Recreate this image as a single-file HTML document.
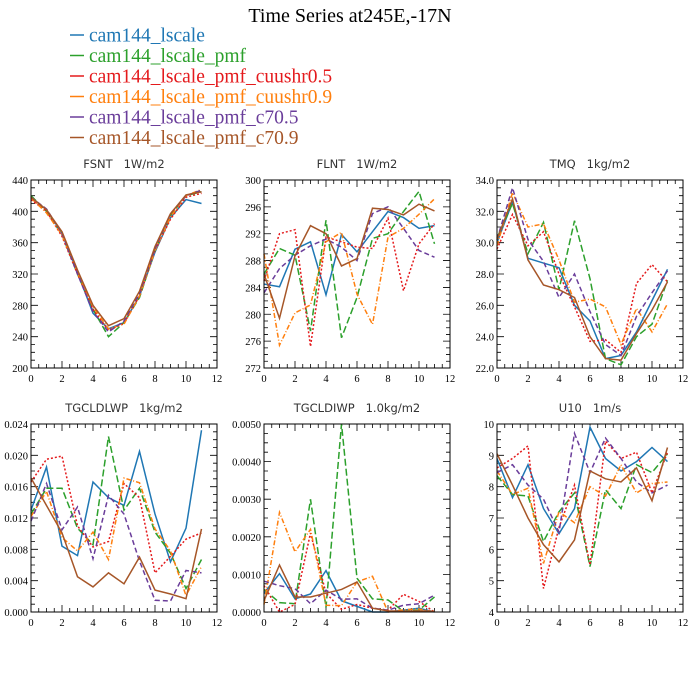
<!DOCTYPE html>
<html><head><meta charset="utf-8"><style>
body{margin:0;background:#fff;}
svg{display:block;}
</style></head><body>
<svg id="c" width="700" height="700" xmlns="http://www.w3.org/2000/svg">
<rect width="700" height="700" fill="#fff"/>
<text x="350" y="22" text-anchor="middle" font-family="Liberation Serif, serif" font-size="20" fill="#000">Time Series at245E,-17N</text>
</svg>
<script>
const seriesNames=["cam144_lscale","cam144_lscale_pmf","cam144_lscale_pmf_cuushr0.5","cam144_lscale_pmf_cuushr0.9","cam144_lscale_pmf_c70.5","cam144_lscale_pmf_c70.9"];
const colors=["#1f77b4","#2ca02c","#e41a1c","#ff7f0e","#6a3d9a","#a65628"];
const dashes=["none","7,3","2,2","5,2,1,2","5,3","none"];
const months=[0,1,2,3,4,5,6,7,8,9,10,11];
const xTicks=[0,2,4,6,8,10,12];

const fsnt=[[418,402,372,322,270,250,258,292,348,392,415,410],[420,400,370,320,275,240,258,290,350,395,420,425],[415,400,368,320,275,248,257,292,350,390,418,423],[417,398,370,322,278,250,256,292,350,393,420,428],[418,403,372,320,272,246,260,295,352,397,420,427],[418,402,374,325,280,254,263,298,355,397,421,425]];
const flnt=[[284.5,284.1,289.7,290.8,282.9,291.9,289.3,292.3,295.3,294.4,292.8,293.2],[286,289.8,288.8,277.5,294,276.5,282.5,291.3,292,295.3,298.3,290.5],[285,292,292.6,275.2,291.5,290.8,290,289.8,294.3,283.5,290.5,293.5],[289,275.4,280.2,281.4,290.8,292.2,283,278.5,291.5,292.8,294.9,297.2],[283.2,286.8,288.8,290.2,291.2,290,288,295,296,292.8,289.5,288.5],[286,279.4,288.7,293.2,292,287.2,288.3,295.8,295.6,294.8,296.4,295.4]];
const tmq=[[30,32.6,29,28.7,28.4,26,25,22.6,22.8,24.3,26.3,28.3],[30.3,32.5,29.3,31.3,27,31.4,27.7,22.6,22.2,24,24.8,27.6],[29.6,31.8,29.8,30.7,28,25.9,23.7,23.8,23,27.4,28.6,27.5],[29.8,33.2,31,31.2,28.9,26.2,26.4,25.9,23.5,25.8,24.3,26.1],[30.2,33.5,30.2,28.8,26.5,28,25.6,23.5,22.8,25.3,26.8,28.2],[30.2,32.8,28.9,27.3,27,26.5,24,22.6,22.5,24.2,25.7,27.5]];
const lwp=[[.013,.0185,.0084,.0072,.0166,.0146,.0136,.0205,.0125,.0064,.0107,.0232],[.0125,.0158,.0158,.0107,.0086,.0224,.013,.0158,.0102,.0075,.003,.0067],[.0166,.0195,.0199,.011,.0083,.009,.0164,.0146,.005,.0071,.0093,.0101],[.0122,.0154,.0095,.0078,.0102,.0067,.0171,.0165,.0106,.0078,.0021,.0058],[.0116,.0164,.0105,.0134,.0068,.0149,.0125,.0065,.0015,.0014,.0053,.005],[.0171,.0136,.0101,.0045,.0032,.005,.0036,.007,.0028,.0023,.0017,.0106]];
const iwp=[[.0005,.00102,.00035,.00048,.0011,.0003,.00015,0,0,.00005,.0001,0],[.0006,.00025,.00022,.003,.00012,.005,.0009,.00035,.00032,.00002,.00005,.0004],[.0007,0,.0002,.0021,.0005,.00007,.0002,.0001,.00005,.00047,.00028,0],[.0002,.00265,.0016,.0022,.00018,.00017,.0008,.00095,0,.00006,.00008,0],[.00082,.0007,.00062,.00022,.00058,.00034,.00035,.0001,.00005,.00018,.00022,.00045],[.0003,.00125,.0004,.0004,.0005,.0006,.0008,.0001,.00003,.00002,.00003,.00002]];
const u10=[[8.9,7.65,8.7,7.3,6.5,7.3,9.9,8.9,8.5,8.8,9.25,8.8],[8.35,7.75,7.7,6.25,7.2,7.8,5.45,7.9,7.3,8.7,8.45,9.05],[8.6,8.9,9.3,4.75,6.7,8.05,5.5,9.45,8.9,9.1,7.8,9.1],[8.5,7.75,7.95,5.55,7.2,6.85,8,7.7,8.7,7.8,8.1,8.15],[8.45,8.7,8.05,7.6,6.55,9.7,8.45,9.55,8.9,8.15,7.8,8.05],[9.05,8.05,7,6.15,5.6,6.3,8.5,8.25,8.15,8.6,7.55,9.25]];

const fsntTicks=["200","240","280","320","360","400","440"];
const flntTicks=["272","276","280","284","288","292","296","300"];
const tmqTicks=["22.0","24.0","26.0","28.0","30.0","32.0","34.0"];
const lwpTicks=["0.000","0.004","0.008","0.012","0.016","0.020","0.024"];
const iwpTicks=["0.0000","0.0010","0.0020","0.0030","0.0040","0.0050"];
const u10Ticks=["4","5","6","7","8","9","10"];

const NS="http://www.w3.org/2000/svg";
const svg=document.getElementById("c");
function mk(tag,attrs,parent){const e=document.createElementNS(NS,tag);for(const k in attrs)e.setAttribute(k,attrs[k]);(parent||svg).appendChild(e);return e;}

// legend
seriesNames.forEach((n,i)=>{
  const y=35+i*20.5;
  const g=mk("g",{});
  
  
  mk("line",{x1:70,x2:84,y1:y,y2:y,stroke:colors[i],"stroke-width":1.5},g);
  const t=mk("text",{x:89,y:y+6.5,"font-family":"Liberation Serif, serif","font-size":19.5,fill:colors[i]},g);
  t.textContent=n;
});

const panels=[
 {title:"FSNT   1W/m2",data:fsnt,ticks:fsntTicks,x:31,y:180,name:"fsnt"},
 {title:"FLNT   1W/m2",data:flnt,ticks:flntTicks,x:264,y:180,name:"flnt"},
 {title:"TMQ   1kg/m2",data:tmq,ticks:tmqTicks,x:497,y:180,name:"tmq"},
 {title:"TGCLDLWP   1kg/m2",data:lwp,ticks:lwpTicks,x:31,y:424,name:"tgcldlwp"},
 {title:"TGCLDIWP   1.0kg/m2",data:iwp,ticks:iwpTicks,x:264,y:424,name:"tgcldiwp"},
 {title:"U10   1m/s",data:u10,ticks:u10Ticks,x:497,y:424,name:"u10"}
];
const W=186,H=188;
panels.forEach(p=>{
  const g=mk("g",{});
  
  
  const ymin=parseFloat(p.ticks[0]),ymax=parseFloat(p.ticks[p.ticks.length-1]);
  const sx=v=>p.x+v/12*W;
  const sy=v=>p.y+H-(v-ymin)/(ymax-ymin)*H;
  const t=mk("text",{x:p.x+W/2,y:p.y-12,"text-anchor":"middle","font-family":"DejaVu Sans, sans-serif","font-size":11.5,fill:"#333"},g);
  
  
  t.textContent=p.title;t.setAttribute("xml:space","preserve");t.style.whiteSpace="pre";
  // ticks
  let d="";
  for(let k=0;k<=24;k++){const x=p.x+k/24*W;const L=(k%4==0)?7:4;d+=`M${x},${p.y+H}v${-L}M${x},${p.y}v${L}`;}
  const ny=(p.ticks.length-1)*4;
  for(let k=0;k<=ny;k++){const y=p.y+H-k/ny*H;const L=(k%4==0)?7:4;d+=`M${p.x},${y}h${L}M${p.x+W},${y}h${-L}`;}
  mk("path",{d:d,stroke:"#000","stroke-width":0.8,fill:"none"},g);
  xTicks.forEach(v=>{const tt=mk("text",{x:sx(v),y:p.y+H+14,"text-anchor":"middle","font-family":"Liberation Serif, serif","font-size":10.5,fill:"#000"},g);
    tt.textContent=v;});
  p.ticks.forEach(s=>{const tt=mk("text",{x:p.x-3,y:sy(parseFloat(s))+4,"text-anchor":"end","font-family":"Liberation Serif, serif","font-size":10.5,fill:"#000"},g);
    tt.textContent=s;});
  p.data.forEach((ser,i)=>{
    const pts=ser.map((v,j)=>sx(months[j])+","+sy(v)).join(" ");
    const pl=mk("polyline",{points:pts,fill:"none",stroke:colors[i],"stroke-width":1.5,"stroke-dasharray":dashes[i]},g);
    
    
  });
  const fr=mk("rect",{x:p.x,y:p.y,width:W,height:H,fill:"none",stroke:"#000","stroke-width":1},g);
  
  
});
</script>
</body></html>
